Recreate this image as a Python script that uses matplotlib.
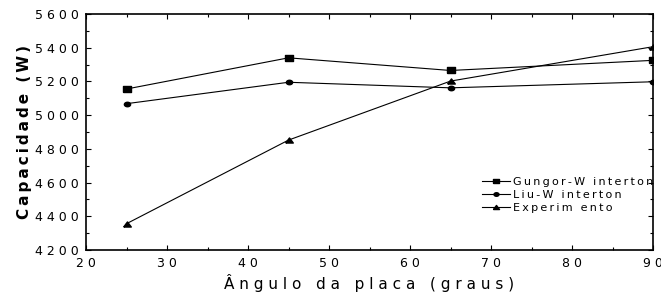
import numpy as np
import matplotlib
matplotlib.use("Agg")
import matplotlib.pyplot as plt
from matplotlib.ticker import MultipleLocator

# --- data ---
angles = [25, 45, 65, 90]
gungor = [5155, 5340, 5265, 5325]
liu = [5068, 5195, 5162, 5198]
experimento = [4356, 4852, 5202, 5406]

series_names = ["Gungor-W interton", "Liu-W interton", "Experim ento"]
x_ticks = [20, 30, 40, 50, 60, 70, 80, 90]
y_ticks = [4200, 4400, 4600, 4800, 5000, 5200, 5400, 5600]

THIN = "\u2009"


def spaced(s, sep=" "):
    # the reference font is stretched wide, fake it with letter spacing
    return sep.join(list(s))


# wide markers (the original picture is stretched horizontally)
sq = [(-1.5, -1), (1.5, -1), (1.5, 1), (-1.5, 1), (-1.5, -1)]
tri = [(-1.5, -1), (1.5, -1), (0, 1), (-1.5, -1)]
t = np.linspace(0, 2 * np.pi, 40)
ell = list(zip(1.4 * np.cos(t), np.sin(t)))

plt.rcParams['font.family'] = ['DejaVu Sans']

fig = plt.figure(figsize=(6.61, 2.97), dpi=100)
ax = fig.add_axes([86 / 661, 1 - 250 / 297, (653 - 86) / 661, (250 - 14) / 297])

ax.plot(angles, gungor, color='black', lw=0.8, marker=sq, ms=5.5, label=spaced(series_names[0], THIN))
ax.plot(angles, liu, color='black', lw=0.8, marker=ell, ms=4.5, label=spaced(series_names[1], THIN))
ax.plot(angles, experimento, color='black', lw=0.8, marker=tri, ms=5.5, label=spaced(series_names[2], THIN))

ax.set_xlim(20, 90)
ax.set_ylim(4200, 5600)
ax.set_xticks(x_ticks)
ax.set_xticklabels([spaced(str(v)) for v in x_ticks])
ax.set_yticks(y_ticks)
ax.set_yticklabels([spaced(str(v)) for v in y_ticks])
ax.xaxis.set_minor_locator(MultipleLocator(5))
ax.yaxis.set_minor_locator(MultipleLocator(100))
ax.tick_params(which='both', direction='in', top=True, right=True, width=0.8, labelsize=9)
ax.tick_params(which='major', length=3.5, pad=5)
ax.tick_params(which='minor', length=2.5)
for sp in ax.spines.values():
    sp.set_linewidth(1.2)

ax.set_xlabel(spaced("Ângulo da placa (graus)"), fontsize=11, labelpad=3)
ax.set_ylabel(spaced("Capacidade (W)", THIN), fontsize=11, fontweight='bold', labelpad=2)

ax.legend(loc='upper left', bbox_to_anchor=(482 / 661, 1 - 177 / 297),
          bbox_transform=fig.transFigure, frameon=False, fontsize=8,
          handlelength=2.5, handletextpad=0.3, labelspacing=0.25,
          borderpad=0, borderaxespad=0, markerscale=0.8)

fig.savefig("out.png", dpi=100)
